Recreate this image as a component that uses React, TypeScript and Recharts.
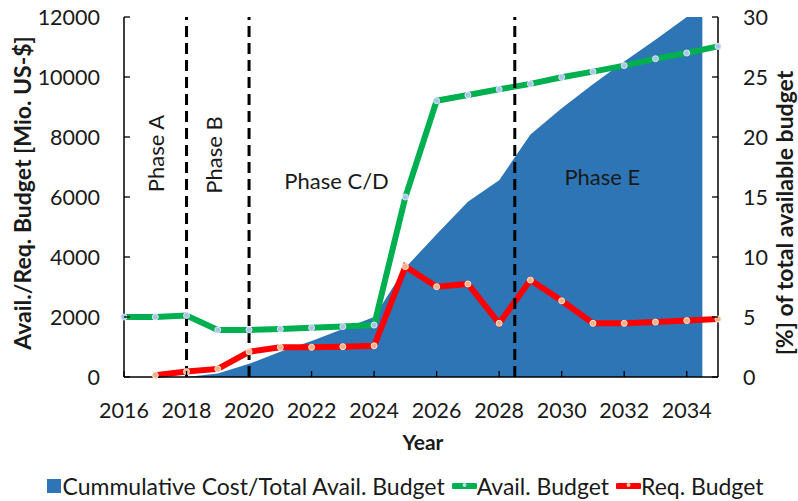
import React from 'react';
import {
  ComposedChart,
  Area,
  Line,
  XAxis,
  YAxis,
  ReferenceLine,
  ReferenceDot,
  Legend,
} from 'recharts';

// ---------- data ----------
const years = [2016, 2017, 2018, 2019, 2020, 2021, 2022, 2023, 2024, 2025, 2026, 2027, 2028, 2029, 2030, 2031, 2032, 2033, 2034, 2035];
const availBudget = [2000, 2000, 2050, 1570, 1570, 1600, 1640, 1680, 1730, 6000, 9210, 9400, 9590, 9770, 9990, 10180, 10380, 10610, 10800, 11020];
const reqBudget: (number | null)[] = [null, 60, 180, 270, 840, 990, 990, 1010, 1040, 3680, 3010, 3100, 1790, 3230, 2540, 1790, 1790, 1830, 1880, 1930];

const costYears = [2016, 2017, 2018, 2019, 2020, 2021, 2022, 2023, 2024, 2025, 2026, 2027, 2028, 2029, 2030, 2031, 2032, 2033, 2034, 2034.5];
const cumCostPct = [0, 0, 0, 0.3, 1.1, 2.1, 3.0, 4.0, 5.0, 9.1, 11.9, 14.6, 16.4, 20.2, 22.4, 24.4, 26.3, 28.1, 30.0, 31.0];

const xTicks = [2016, 2018, 2020, 2022, 2024, 2026, 2028, 2030, 2032, 2034];
const leftTicks = [0, 2000, 4000, 6000, 8000, 10000, 12000];
const rightTicks = [0, 5, 10, 15, 20, 25, 30];

const phaseBoundaries = [2018, 2020, 2028.5];
const phaseNames = ['Phase A', 'Phase B', 'Phase C/D', 'Phase E'];
const phaseLabelYears = [2017, 2018.85, 2022.8, 2031.3];
const phaseLabelValues = [7450, 7400, 6550, 6700];
const phaseLabelVertical = [true, true, false, false];

// ---------- build table ----------
const allX = Array.from(new Set([...years, ...costYears])).sort((a, b) => a - b);
const data = allX.map((yr) => {
  const i = years.indexOf(yr);
  const j = costYears.indexOf(yr);
  return {
    year: yr,
    avail: i >= 0 ? availBudget[i] : null,
    req: i >= 0 ? reqBudget[i] : null,
    cost: j >= 0 ? cumCostPct[j] : null,
  };
});

// ---------- style ----------
const FONT = 'Lato, "Noto Sans", sans-serif';
const TXT = '#1a1a1a';
const AREA = '#2E75B6';
const GREEN = '#00B050';
const RED = '#FF0000';
const FS = 21.5;
const TITLE_FS = 23;

const LeftTick = (props: any) => {
  const { x, y, payload } = props;
  return (
    <g>
      <line x1={x} x2={x + 6} y1={y} y2={y} stroke="#000" strokeWidth={1.3} />
      <text x={x - 24} y={y} dy="0.36em" textAnchor="end" fontFamily={FONT} fontSize={FS} fill={TXT}>
        {payload.value}
      </text>
    </g>
  );
};

const RightTick = (props: any) => {
  const { x, y, payload } = props;
  return (
    <g>
      <line x1={x} x2={x - 6} y1={y} y2={y} stroke="#000" strokeWidth={1.3} />
      <text x={x + 25} y={y} dy="0.36em" textAnchor="start" fontFamily={FONT} fontSize={FS} fill={TXT}>
        {payload.value}
      </text>
    </g>
  );
};

const BottomTick = (props: any) => {
  const { x, y, payload } = props;
  return (
    <g>
      <line x1={x} x2={x} y1={y} y2={y - 6} stroke="#000" strokeWidth={1.3} />
      <text x={x} y={y + 41} textAnchor="middle" fontFamily={FONT} fontSize={FS} fill={TXT}>
        {payload.value}
      </text>
    </g>
  );
};

const PhaseLabel = (text: string, vertical: boolean) => (props: any) => {
  const vb = props.viewBox || {};
  const cx = (vb.x ?? 0) + (vb.width ?? 0) / 2;
  const cy = (vb.y ?? 0) + (vb.height ?? 0) / 2;
  return (
    <text
      x={cx}
      y={cy}
      textAnchor="middle"
      dominantBaseline="central"
      fontFamily={FONT}
      fontSize={22}
      fill={TXT}
      transform={vertical ? `rotate(-90 ${cx} ${cy})` : undefined}
    >
      {text}
    </text>
  );
};

const LineIcon = ({ color, dot }: { color: string; dot: string }) => (
  <svg width={25} height={12} style={{ display: 'inline-block' }}>
    <line x1={2} x2={23} y1={6} y2={6} stroke={color} strokeWidth={6} strokeLinecap="round" />
    <circle cx={12.5} cy={5} r={2} fill={dot} />
  </svg>
);

const renderLegend = () => (
  <div
    style={{
      display: 'flex',
      justifyContent: 'center',
      alignItems: 'center',
      height: 30,
      fontFamily: FONT,
      fontSize: 23,
      color: TXT,
      whiteSpace: 'nowrap',
      marginLeft: 12,
    }}
  >
    <span style={{ display: 'inline-block', width: 14, height: 14, background: AREA, marginRight: 2 }} />
    <span style={{ marginRight: 7 }}>Cummulative Cost/Total Avail. Budget</span>
    <LineIcon color={GREEN} dot="#BDD7EE" />
    <span style={{ marginRight: 7 }}>Avail. Budget</span>
    <LineIcon color={RED} dot="#F8CBAD" />
    <span>Req. Budget</span>
  </div>
);

export default function App() {
  return (
    <div style={{ position: 'absolute', left: 0, top: 0, width: 798, height: 501, background: '#fff' }}>
      <ComposedChart
        width={798}
        height={501}
        data={data}
        margin={{ top: 17, right: 0, bottom: 0, left: 0 }}
        style={{ fontFamily: FONT }}
      >
        <XAxis
          dataKey="year"
          type="number"
          domain={[2016, 2035]}
          ticks={xTicks}
          interval={0}
          height={94}
          tickSize={0}
          tickMargin={0}
          tickLine={false}
          tick={<BottomTick />}
          axisLine={{ stroke: '#000', strokeWidth: 1.5 }}
          label={{
            content: (p: any) => {
              const vb = p.viewBox || {};
              return (
                <text
                  x={vb.x + vb.width / 2 + 2}
                  y={vb.y + 73}
                  textAnchor="middle"
                  fontFamily={FONT}
                  fontWeight="bold"
                  fontSize={21}
                  fill={TXT}
                >
                  Year
                </text>
              );
            },
          }}
        />
        <XAxis
          xAxisId="top"
          dataKey="year"
          type="number"
          domain={[2016, 2035]}
          orientation="top"
          height={0}
          tick={false}
          tickLine={false}
          axisLine={{ stroke: '#000', strokeWidth: 1.5 }}
        />
        <YAxis
          yAxisId="left"
          orientation="left"
          width={124}
          domain={[0, 12000]}
          ticks={leftTicks}
          interval={0}
          tickSize={0}
          tickMargin={0}
          tickLine={false}
          tick={<LeftTick />}
          axisLine={{ stroke: '#000', strokeWidth: 1.5 }}
          label={{
            content: (p: any) => {
              const vb = p.viewBox || {};
              const cx = vb.x + 22;
              const cy = vb.y + vb.height / 2 - 4;
              return (
                <text
                  x={cx}
                  y={cy}
                  textAnchor="middle"
                  dominantBaseline="central"
                  fontFamily={FONT}
                  fontWeight="bold"
                  fontSize={TITLE_FS}
                  fill={TXT}
                  transform={`rotate(-90 ${cx} ${cy})`}
                >
                  Avail./Req. Budget [Mio. US-$]
                </text>
              );
            },
          }}
        />
        <YAxis
          yAxisId="right"
          orientation="right"
          width={80}
          domain={[0, 30]}
          allowDataOverflow
          ticks={rightTicks}
          interval={0}
          tickSize={0}
          tickMargin={0}
          tickLine={false}
          tick={<RightTick />}
          axisLine={{ stroke: '#000', strokeWidth: 1.5 }}
          label={{
            content: (p: any) => {
              const vb = p.viewBox || {};
              const cx = vb.x + 66;
              const cy = vb.y + vb.height / 2 + 16;
              return (
                <text
                  x={cx}
                  y={cy}
                  textAnchor="middle"
                  dominantBaseline="central"
                  fontFamily={FONT}
                  fontWeight="bold"
                  fontSize={TITLE_FS}
                  fill={TXT}
                  transform={`rotate(-90 ${cx} ${cy})`}
                >
                  [%] of total available budget
                </text>
              );
            },
          }}
        />
        <Legend verticalAlign="bottom" align="center" height={30} content={renderLegend} />
        <Area
          yAxisId="right"
          dataKey="cost"
          type="linear"
          fill={AREA}
          fillOpacity={1}
          stroke="none"
          isAnimationActive={false}
          legendType="square"
          name="Cummulative Cost/Total Avail. Budget"
        />
        <Line
          yAxisId="left"
          dataKey="avail"
          type="linear"
          stroke={GREEN}
          strokeWidth={6}
          connectNulls
          dot={{ r: 3, fill: '#A9C4EB', stroke: '#DCE6F2', strokeWidth: 1 }}
          activeDot={false}
          isAnimationActive={false}
          name="Avail. Budget"
        />
        <Line
          yAxisId="left"
          dataKey="req"
          type="linear"
          stroke={RED}
          strokeWidth={6}
          connectNulls
          dot={{ r: 3, fill: '#F4B183', stroke: '#FBE5D6', strokeWidth: 1 }}
          activeDot={false}
          isAnimationActive={false}
          name="Req. Budget"
        />
        {phaseBoundaries.map((b) => (
          <ReferenceLine
            key={b}
            yAxisId="left"
            x={b}
            stroke="#000"
            strokeWidth={3}
            strokeDasharray="11 6"
          />
        ))}
        {phaseNames.map((name, i) => (
          <ReferenceDot
            key={name}
            yAxisId="left"
            x={phaseLabelYears[i]}
            y={phaseLabelValues[i]}
            r={1}
            fill="none"
            stroke="none"
            label={{ content: PhaseLabel(name, phaseLabelVertical[i]) }}
          />
        ))}
      </ComposedChart>
    </div>
  );
}
